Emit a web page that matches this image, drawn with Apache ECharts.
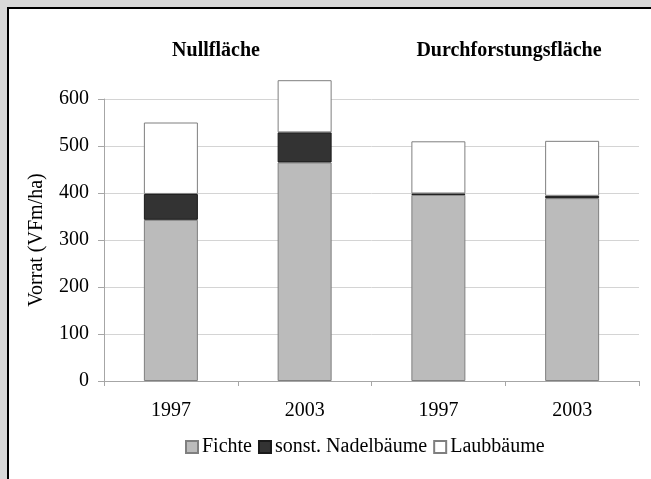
<!DOCTYPE html>
<html>
<head>
<meta charset="utf-8">
<script src="https://cdn.jsdelivr.net/npm/echarts@6/dist/echarts.min.js"></script>
<style>
html,body{margin:0;padding:0;background:#d9d9d9;}
#c{width:651px;height:479px;}
</style>
</head>
<body>
<div id="c"></div>
<script>
var categories = ['1997', '2003', '1997', '2003'];
var groupTitles = ['Nullfläche', 'Durchforstungsfläche'];
var fichte = [343, 465, 396, 389];
var sonstNadel = [55, 64, 3, 5];
var laub = [152, 111, 111, 117];
var yTicks = [0, 100, 200, 300, 400, 500, 600];
var seriesNames = ['Fichte', 'sonst. Nadelbäume', 'Laubbäume'];

var font = 'Liberation Serif';
var chart = echarts.init(document.getElementById('c'), null, {renderer: 'canvas'});
chart.setOption({
  backgroundColor: '#d9d9d9',
  animation: false,
  graphic: [
    {type: 'rect', z: -10, shape: {x: 8, y: 8, width: 700, height: 500},
     style: {fill: '#ffffff', stroke: '#000000', lineWidth: 2}},
    {type: 'text', x: 216, y: 51, z: 10,
     style: {text: groupTitles[0], font: 'bold 20px "Liberation Serif"', fill: '#000', textAlign: 'center', textVerticalAlign: 'middle'}},
    {type: 'text', x: 509, y: 51, z: 10,
     style: {text: groupTitles[1], font: 'bold 20px "Liberation Serif"', fill: '#000', textAlign: 'center', textVerticalAlign: 'middle'}}
  ],
  legend: {
    data: seriesNames,
    left: 180, top: 432,
    itemWidth: 12, itemHeight: 12, itemGap: 6,
    textStyle: {fontFamily: font, fontSize: 20, color: '#000', padding: [0, 0, 0, -1]},
    icon: 'rect'
  },
  grid: {left: 104, right: 12, top: 99, bottom: 98},
  xAxis: {
    type: 'category', data: categories,
    axisLine: {lineStyle: {color: '#a6a6a6', width: 1}},
    axisTick: {show: true, length: 5, lineStyle: {color: '#a6a6a6'}},
    axisLabel: {fontFamily: font, fontSize: 20, color: '#000', margin: 20}
  },
  yAxis: {
    type: 'value', min: 0, max: 600, interval: 100,
    name: 'Vorrat (VFm/ha)', nameLocation: 'middle', nameGap: 57, nameRotate: 90,
    nameTextStyle: {fontFamily: font, fontSize: 20, color: '#000'},
    axisLine: {show: true, lineStyle: {color: '#a6a6a6'}},
    axisTick: {show: true, length: 6, lineStyle: {color: '#a6a6a6'}},
    axisLabel: {fontFamily: font, fontSize: 20, color: '#000', margin: 15,
      formatter: function (v) { return yTicks.indexOf(v) >= 0 ? String(v) : ''; }},
    splitLine: {lineStyle: {color: '#d4d4d4', width: 1}}
  },
  series: [
    {name: seriesNames[0], type: 'bar', stack: 's', data: fichte, barWidth: 54, clip: false,
     itemStyle: {color: '#bbbbbb', borderColor: '#7f7f7f', borderWidth: 1}},
    {name: seriesNames[1], type: 'bar', stack: 's', data: sonstNadel, barWidth: 54, clip: false,
     itemStyle: {color: '#333333', borderColor: '#1a1a1a', borderWidth: 1}},
    {name: seriesNames[2], type: 'bar', stack: 's', data: laub, barWidth: 54, clip: false,
     itemStyle: {color: '#ffffff', borderColor: '#7f7f7f', borderWidth: 1}}
  ]
});
</script>
</body>
</html>
